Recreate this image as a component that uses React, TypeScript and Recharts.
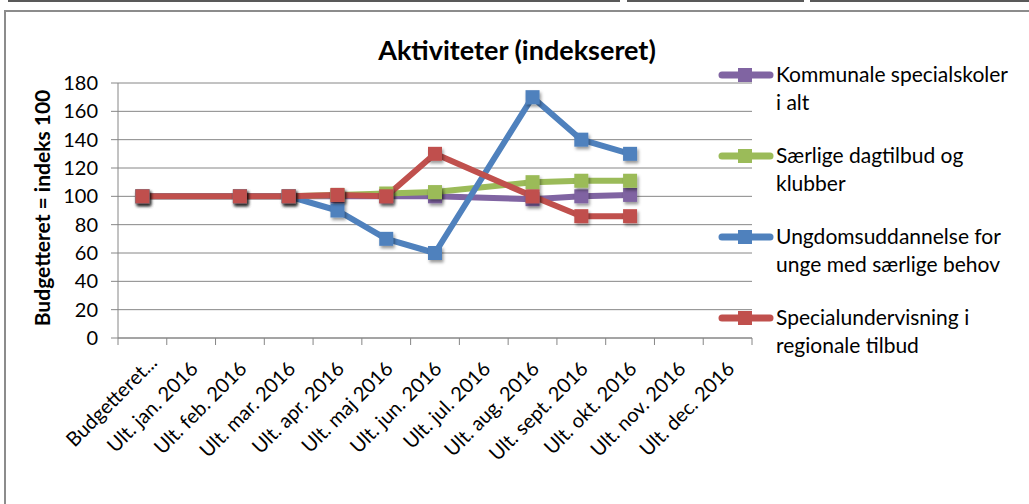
import React from 'react';
import { LineChart, Line, XAxis, YAxis, CartesianGrid } from 'recharts';

const categories = [
  'Budgetteret...',
  'Ult. jan. 2016',
  'Ult. feb. 2016',
  'Ult. mar. 2016',
  'Ult. apr. 2016',
  'Ult. maj 2016',
  'Ult. jun. 2016',
  'Ult. jul. 2016',
  'Ult. aug. 2016',
  'Ult. sept. 2016',
  'Ult. okt. 2016',
  'Ult. nov. 2016',
  'Ult. dec. 2016',
];

const kommunale = [100, null, 100, 100, 100, 100, 100, null, 98, 100, 101, null, null];
const saerlige = [100, null, 100, 100, 101, 102, 103, null, 110, 111, 111, null, null];
const ungdom = [100, null, 100, 100, 90, 70, 60, null, 170, 140, 130, null, null];
const specialund = [100, null, 100, 100, 101, 100, 130, null, 100, 86, 86, null, null];

const yTicks = [0, 20, 40, 60, 80, 100, 120, 140, 160, 180];

const series = [
  { key: 'k', name: 'Kommunale specialskoler i alt', lines: ['Kommunale specialskoler', 'i alt'], color: '#8064A2', values: kommunale },
  { key: 's', name: 'Særlige dagtilbud og klubber', lines: ['Særlige dagtilbud og', 'klubber'], color: '#9BBB59', values: saerlige },
  { key: 'u', name: 'Ungdomsuddannelse for unge med særlige behov', lines: ['Ungdomsuddannelse for', 'unge med særlige behov'], color: '#4F81BD', values: ungdom },
  { key: 'r', name: 'Specialundervisning i regionale tilbud', lines: ['Specialundervisning i', 'regionale tilbud'], color: '#C0504D', values: specialund },
];

const data = categories.map((c, i) => {
  const row: any = { cat: c };
  series.forEach((s) => {
    row[s.key] = s.values[i];
  });
  return row;
});

const W = 1029;
const H = 504;
const PLOT_LEFT = 118;
const PLOT_RIGHT = 752;
const PLOT_TOP = 83;
const PLOT_BOTTOM = 338;
const BAND = (PLOT_RIGHT - PLOT_LEFT) / categories.length;
const FONT = 'Lato, "Open Sans", sans-serif';
const AXIS = '#868686';

const XTick = (props: any) => {
  const { x, y, payload, index } = props;
  const last = index === categories.length - 1;
  const dx = index === 0 ? 16 : 8;
  const dy = index === 0 ? 26 : 32;
  return (
    <g>
      <line x1={x - BAND / 2} y1={y} x2={x - BAND / 2} y2={y + 7} stroke={AXIS} strokeWidth={1} />
      {last && <line x1={x + BAND / 2} y1={y} x2={x + BAND / 2} y2={y + 7} stroke={AXIS} strokeWidth={1} />}
      <text
        transform={`translate(${x + dx},${y + dy}) rotate(-45)`}
        textAnchor="end"
        fontFamily={FONT}
        fontSize={20}
        fill="#000"
      >
        {payload.value}
      </text>
    </g>
  );
};

const makeDot = (color: string) => (p: any) => {
  const { cx, cy, index } = p;
  if (cy == null || cx == null || p.value == null) return <g key={`d${index}`} />;
  const s = 14;
  return (
    <rect
      key={`d${index}`}
      x={cx - s / 2}
      y={cy - s / 2}
      width={s}
      height={s}
      fill={color}
      filter="url(#shadow)"
    />
  );
};

const LegendBox = () => (
  <div style={{ position: 'absolute', left: 718, top: 60, width: 311 }}>
    {series.map((s) => (
      <div key={s.key} style={{ position: 'relative', height: 81 }}>
        <svg width={56} height={16} style={{ position: 'absolute', left: 0, top: 7 }}>
          <line x1={4} y1={8} x2={52} y2={8} stroke={s.color} strokeWidth={7} strokeLinecap="round" />
          <rect x={20} y={1} width={14} height={14} fill={s.color} />
        </svg>
        <div
          style={{
            position: 'absolute',
            left: 58,
            top: 0,
            fontFamily: FONT,
            fontSize: 21,
            lineHeight: '28px',
            color: '#000',
            whiteSpace: 'nowrap',
          }}
        >
          {s.lines.map((l, i) => (
            <div key={i}>{l}</div>
          ))}
        </div>
      </div>
    ))}
  </div>
);

export default function App() {
  return (
    <div style={{ position: 'absolute', left: 0, top: 0, width: W, height: H, background: '#fff', overflow: 'hidden' }}>
      <div style={{ position: 'absolute', left: 8, top: 0, width: 612, height: 2, background: '#595959' }} />
      <div style={{ position: 'absolute', left: 627, top: 0, width: 177, height: 2, background: '#595959' }} />
      <div style={{ position: 'absolute', left: 810, top: 0, width: 219, height: 2, background: '#595959' }} />
      <div
        style={{
          position: 'absolute',
          left: 4,
          top: 10,
          width: W,
          height: H,
          borderTop: '2px solid #8c8c8c',
          borderLeft: '2px solid #8c8c8c',
        }}
      />
      <div
        style={{
          position: 'absolute',
          left: 0,
          top: 35,
          width: 1034,
          textAlign: 'center',
          fontFamily: FONT,
          fontWeight: 700,
          fontSize: 27,
          lineHeight: '30px',
          color: '#000',
        }}
      >
        Aktiviteter (indekseret)
      </div>
      <div
        style={{
          position: 'absolute',
          left: 41,
          top: (PLOT_TOP + PLOT_BOTTOM) / 2 - 3,
          transform: 'translate(-50%, -50%) rotate(-90deg)',
          fontFamily: FONT,
          fontWeight: 700,
          fontSize: 21,
          whiteSpace: 'nowrap',
          color: '#000',
        }}
      >
        Budgetteret = indeks 100
      </div>
      <div style={{ position: 'absolute', left: 0, top: 0 }}>
        <LineChart
          width={W}
          height={H}
          data={data}
          margin={{ top: PLOT_TOP, right: W - PLOT_RIGHT, bottom: 0, left: 0 }}
        >
          <defs>
            <filter id="shadow" x="-50%" y="-50%" width="200%" height="200%">
              <feDropShadow dx="1.5" dy="2.5" stdDeviation="1.5" floodColor="#000" floodOpacity="0.4" />
            </filter>
          </defs>
          <CartesianGrid vertical={false} stroke={AXIS} strokeWidth={1} />
          <XAxis
            dataKey="cat"
            height={H - PLOT_BOTTOM}
            interval={0}
            padding={{ left: BAND / 2, right: BAND / 2 }}
            tickLine={false}
            tickSize={0}
            tickMargin={0}
            axisLine={{ stroke: AXIS, strokeWidth: 1 }}
            tick={<XTick />}
          />
          <YAxis
            width={PLOT_LEFT}
            domain={[0, 180]}
            ticks={yTicks}
            interval={0}
            tickSize={7}
            tickMargin={13}
            tickLine={{ stroke: AXIS }}
            axisLine={{ stroke: AXIS, strokeWidth: 1 }}
            tick={{ fill: '#000', fontFamily: FONT, fontSize: 20 }}
          />
          {series.map((s) => (
            <Line
              key={s.key}
              dataKey={s.key}
              name={s.name}
              stroke={s.color}
              strokeWidth={6}
              connectNulls
              dot={makeDot(s.color)}
              activeDot={false}
              isAnimationActive={false}
              strokeLinejoin="round"
            />
          ))}
        </LineChart>
      </div>
      <LegendBox />
    </div>
  );
}
